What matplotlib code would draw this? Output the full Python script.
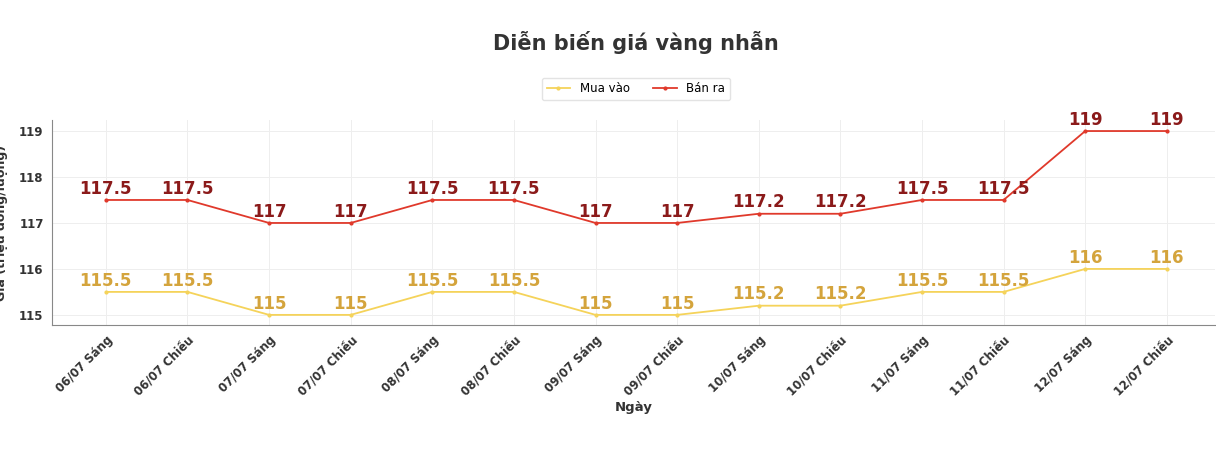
import matplotlib
matplotlib.use("Agg")
import matplotlib.pyplot as plt

categories = ["06/07 Sáng", "06/07 Chiều", "07/07 Sáng", "07/07 Chiều", "08/07 Sáng", "08/07 Chiều",
              "09/07 Sáng", "09/07 Chiều", "10/07 Sáng", "10/07 Chiều", "11/07 Sáng", "11/07 Chiều",
              "12/07 Sáng", "12/07 Chiều"]
mua_vao = [115.5, 115.5, 115, 115, 115.5, 115.5, 115, 115, 115.2, 115.2, 115.5, 115.5, 116, 116]
ban_ra = [117.5, 117.5, 117, 117, 117.5, 117.5, 117, 117, 117.2, 117.2, 117.5, 117.5, 119, 119]
yticks = [115, 116, 117, 118, 119]

fig = plt.figure(figsize=(12.16, 4.68), dpi=100)
ax = fig.add_axes([52/1216, 1-325/468, (1215-52)/1216, (325-120)/468])
x = list(range(len(categories)))
ax.plot(x, mua_vao, color="#f5d35a", marker="o", markersize=2, lw=1.3, label="Mua vào")
ax.plot(x, ban_ra, color="#e0392b", marker="o", markersize=2, lw=1.3, label="Bán ra")

def fmt(v):
    return f"{v:g}"
for xi, v in zip(x, mua_vao):
    ax.text(xi, v + 0.05, fmt(v), ha="center", va="bottom", color="#d4a43c", fontsize=12, fontweight="bold")
for xi, v in zip(x, ban_ra):
    ax.text(xi, v + 0.05, fmt(v), ha="center", va="bottom", color="#8b1a1a", fontsize=12, fontweight="bold")

ax.set_xlim(-0.66, 13.59)
ax.set_ylim(114.78, 119.24)
ax.set_xticks(x)
ax.set_xticklabels(categories, rotation=45, ha="right", rotation_mode="anchor", fontsize=8.5, fontweight="bold", color="#333333")
ax.set_yticks(yticks)
ax.set_yticklabels([str(t) for t in yticks], fontsize=8.5, fontweight="bold", color="#333333")
ax.tick_params(length=0, pad=6)
ax.grid(True, color="#eeeeee", lw=0.7)
for s in ["top", "right"]:
    ax.spines[s].set_visible(False)
for s in ["left", "bottom"]:
    ax.spines[s].set_color("#888888")
ax.set_xlabel("Ngày", fontsize=9.5, fontweight="bold", color="#333333", labelpad=2)
ax.set_ylabel("Giá (triệu đồng/lượng)", fontsize=9, fontweight="bold", color="#333333", labelpad=8)
fig.text(0.523, 1-42/468, "Diễn biến giá vàng nhẫn", ha="center", va="center", fontsize=15, fontweight="bold", color="#333333")
fig.legend(loc="center", bbox_to_anchor=(0.523, 1-89/468), ncol=2, fontsize=8.5, frameon=True, edgecolor="#dddddd")
fig.savefig("out.png", dpi=100)
